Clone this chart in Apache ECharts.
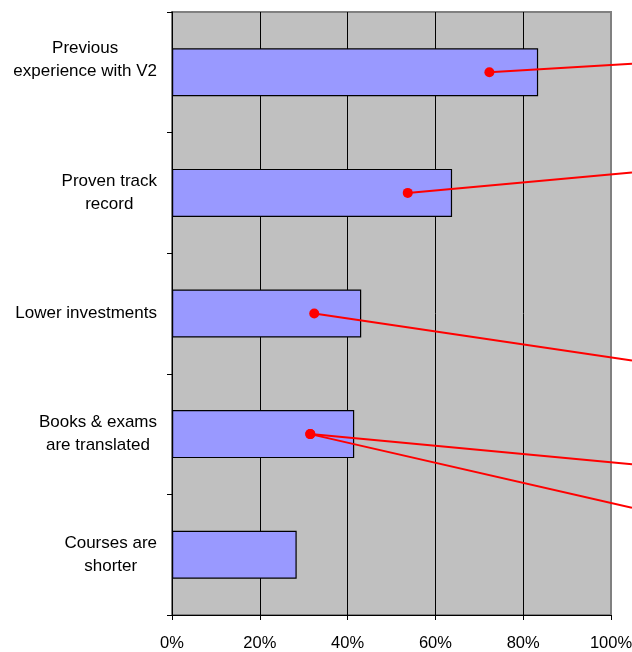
<!DOCTYPE html>
<html>
<head>
<meta charset="utf-8">
<script src="https://cdn.jsdelivr.net/npm/echarts@6/dist/echarts.min.js"></script>
<style>
  html, body { margin: 0; padding: 0; background: #fff; }
  #chart { width: 632px; height: 652px; }
</style>
</head>
<body>
<div id="chart"></div>
<script>
// Reasons, top to bottom
const categories = [
  'Previous\nexperience with V2',
  'Proven track\nrecord',
  'Lower investments',
  'Books & exams\nare translated',
  'Courses are\nshorter'
];
// Share of respondents (%)
const shares = [83.4, 63.8, 43.1, 41.5, 28.4];
const xTicks = [0, 20, 40, 60, 80, 100];

// Callout leaders: start point [x %, row position], end point at the right edge of the page
const calloutStart = [
  [72.3, 0.5],
  [53.7, 1.5],
  [32.4, 2.5],
  [31.5, 3.5],
  [31.5, 3.5]
];
const calloutEnd = [
  [104.78, 0.43],
  [104.78, 1.33],
  [104.78, 2.89],
  [104.78, 3.75],
  [104.78, 4.11]
];

const FONT = 'Liberation Sans, Arial, sans-serif';
const PLOT_LEFT = 172, PLOT_RIGHT = 21, PLOT_TOP = 12, PLOT_BOTTOM = 37;
// The overlay grid runs to the page edge; its x range is stretched so 0-100 lines up with the plot
const overlayMax = 100 * (632 - PLOT_LEFT) / (632 - PLOT_LEFT - PLOT_RIGHT);

const chart = echarts.init(document.getElementById('chart'), null, { renderer: 'canvas' });

const calloutSeries = calloutStart.map((p, i) => ({
  type: 'line',
  xAxisIndex: 1,
  yAxisIndex: 1,
  silent: true,
  z: 5,
  symbol: 'circle',
  symbolSize: 10,
  itemStyle: { color: '#FF0000' },
  lineStyle: { color: '#FF0000', width: 2 },
  data: [
    { value: p },
    { value: calloutEnd[i], symbol: 'none' }
  ]
}));

chart.setOption({
  animation: false,
  grid: [
    {
      left: PLOT_LEFT, right: PLOT_RIGHT, top: PLOT_TOP, bottom: PLOT_BOTTOM,
      outerBoundsMode: 'none',
      show: true,
      backgroundColor: '#C0C0C0',
      borderColor: '#808080',
      borderWidth: 2
    },
    {
      left: PLOT_LEFT, right: 0, top: PLOT_TOP, bottom: PLOT_BOTTOM,
      outerBoundsMode: 'none',
      show: false
    }
  ],
  xAxis: [
    {
      type: 'value',
      gridIndex: 0,
      min: 0, max: 100, interval: 20,
      axisLine: { show: true, lineStyle: { color: '#000', width: 1 } },
      axisTick: { show: true, length: 5, lineStyle: { color: '#000' } },
      axisLabel: {
        margin: 20,
        color: '#000',
        fontFamily: FONT,
        fontSize: 16.5,
        formatter: v => (xTicks.includes(v) ? v + '%' : '')
      },
      splitLine: {
        show: true,
        showMinLine: false,
        showMaxLine: false,
        lineStyle: { color: '#000', width: 1 }
      }
    },
    {
      type: 'value',
      gridIndex: 1,
      min: 0, max: overlayMax,
      show: false,
      splitLine: { show: false }
    }
  ],
  yAxis: [
    {
      type: 'category',
      gridIndex: 0,
      data: categories.map((c, i) => i === 0
        ? { value: c, textStyle: { padding: [0, 0, 25, 0] } }
        : c),
      inverse: true,
      axisLine: { show: true, lineStyle: { color: '#000', width: 1 } },
      axisTick: { show: true, length: 5, lineStyle: { color: '#000' } },
      axisLabel: {
        margin: 15,
        color: '#000',
        fontFamily: FONT,
        fontSize: 17,
        lineHeight: 23,
        align: 'right',
        formatter: v => v.split('\n').map(s => '{c|' + s + '}').join('\n'),
        rich: {
          c: {
            align: 'center',
            fontSize: 17,
            lineHeight: 23,
            color: '#000',
            fontFamily: FONT
          }
        }
      },
      splitLine: { show: false }
    },
    {
      type: 'value',
      gridIndex: 1,
      min: 0, max: 5,
      inverse: true,
      show: false,
      splitLine: { show: false }
    }
  ],
  series: [
    {
      type: 'bar',
      xAxisIndex: 0,
      yAxisIndex: 0,
      data: shares,
      barWidth: 48,
      itemStyle: { color: '#9999FF', borderColor: '#000', borderWidth: 1.2 },
      z: 3
    },
    ...calloutSeries
  ]
});
</script>
</body>
</html>
